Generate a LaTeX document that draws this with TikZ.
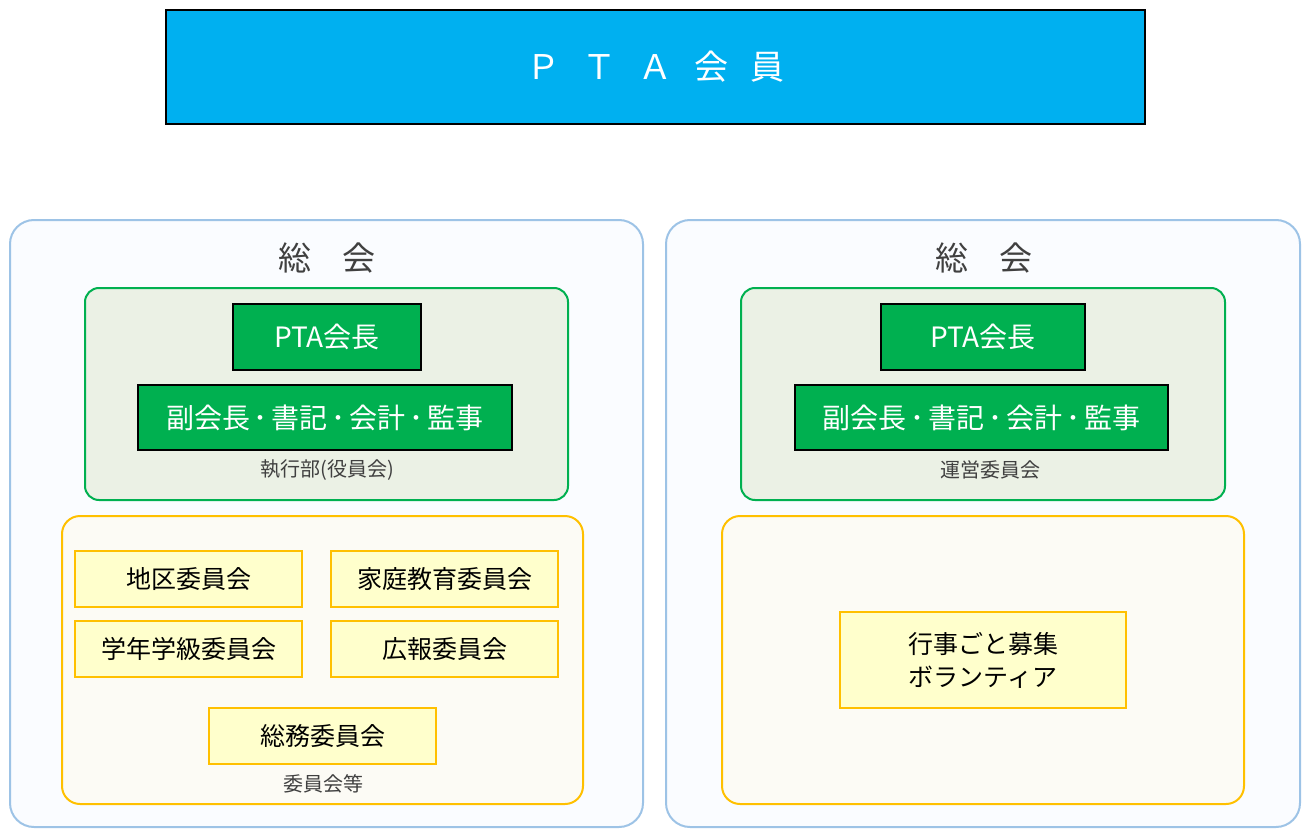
\documentclass[tikz,border=0pt]{standalone}
\usepackage{fontspec}
\setmainfont{Noto Sans CJK JP}

\definecolor{ptacyan}{HTML}{00B0F0}
\definecolor{outerblue}{HTML}{9DC3E6}
\definecolor{outerfill}{HTML}{FAFCFF}
\definecolor{execgreen}{HTML}{00B050}
\definecolor{execfill}{HTML}{EBF1E5}
\definecolor{cmtyellow}{HTML}{FFC000}
\definecolor{areafill}{HTML}{FCFBF5}
\definecolor{cmtfill}{HTML}{FFFFCC}
\definecolor{labelgray}{HTML}{404040}

\newcommand{\fsz}[2]{\fontsize{#1}{#2}\selectfont}
\newcommand{\officerdot}{\kern4pt･\kern4pt}

\tikzset{
  memberbox/.style={draw=black, line width=1.5pt, fill=ptacyan, text=white,
    inner sep=0pt, font=\fsz{34pt}{40pt}},
  generalbox/.style={draw=outerblue, line width=2pt, fill=outerfill,
    rounded corners=24pt, inner sep=0pt},
  execbox/.style={draw=execgreen, line width=2pt, fill=execfill,
    rounded corners=14pt, inner sep=0pt},
  officerbox/.style={draw=black, line width=1.5pt, fill=execgreen, text=white,
    inner sep=0pt, font=\fsz{28pt}{32pt}},
  cmtarea/.style={draw=cmtyellow, line width=2pt, fill=areafill,
    rounded corners=18pt, inner sep=0pt},
  cmtbox/.style={draw=cmtyellow, line width=1.5pt, fill=cmtfill,
    inner sep=0pt, font=\fsz{25pt}{30pt}, minimum width=227pt, minimum height=56pt},
  title/.style={text=labelgray, inner sep=0pt, font=\fsz{33pt}{40pt}},
  caption/.style={text=labelgray, inner sep=0pt, font=\fsz{20pt}{24pt}}
}

\begin{document}
\begin{tikzpicture}[x=1pt, y=-1pt]

    \useasboundingbox (0,0) rectangle (1305,829);

    % PTA会員
    \node[memberbox, minimum width=979pt, minimum height=114pt] (members) at (655.5,67)
      {Ｐ\kern22pt Ｔ\kern22pt Ａ\kern22pt 会\kern22pt 員};

    % 左の総会
    \node[generalbox, minimum width=633pt, minimum height=607pt] (leftgeneral) at (326.5,523.5) {};
    \node[title] (lefttitle) at (327,258) {総\kern32pt 会};

    \node[execbox, minimum width=483pt, minimum height=212pt] (leftexec) at (326.5,394) {};
    \node[officerbox, minimum width=188pt, minimum height=66pt] (leftchair) at (327,337) {PTA会長};
    \node[officerbox, minimum width=374pt, minimum height=65pt] (leftofficers) at (325,417.5)
      {副会長\officerdot 書記\officerdot 会計\officerdot 監事};
    \node[caption] (leftexeclabel) at (327,470) {執行部(役員会)};

    \node[cmtarea, minimum width=521pt, minimum height=288pt] (leftarea) at (322.5,660) {};
    \node[cmtbox] (district) at (188.5,579) {地区委員会};
    \node[cmtbox] (homeedu) at (444.5,579) {家庭教育委員会};
    \node[cmtbox] (grade) at (188.5,649) {学年学級委員会};
    \node[cmtbox] (press) at (444.5,649) {広報委員会};
    \node[cmtbox] (general) at (322.5,736) {総務委員会};
    \node[caption] (leftarealabel) at (323,784) {委員会等};

    % 右の総会
    \node[generalbox, minimum width=634pt, minimum height=607pt] (rightgeneral) at (983,523.5) {};
    \node[title] (righttitle) at (984,258) {総\kern32pt 会};

    \node[execbox, minimum width=484pt, minimum height=212pt] (rightexec) at (983,394) {};
    \node[officerbox, minimum width=204pt, minimum height=66pt] (rightchair) at (983,337) {PTA会長};
    \node[officerbox, minimum width=373pt, minimum height=65pt] (rightofficers) at (981.5,417.5)
      {副会長\officerdot 書記\officerdot 会計\officerdot 監事};
    \node[caption] (rightexeclabel) at (990,470) {運営委員会};

    \node[cmtarea, minimum width=522pt, minimum height=288pt] (rightarea) at (983,660) {};
    \node[cmtbox, minimum width=286pt, minimum height=96pt, align=center,
      font=\fsz{25pt}{33pt}] (volunteer) at (983,660) {行事ごと募集\\ボランティア};

  \end{tikzpicture}
\end{document}
